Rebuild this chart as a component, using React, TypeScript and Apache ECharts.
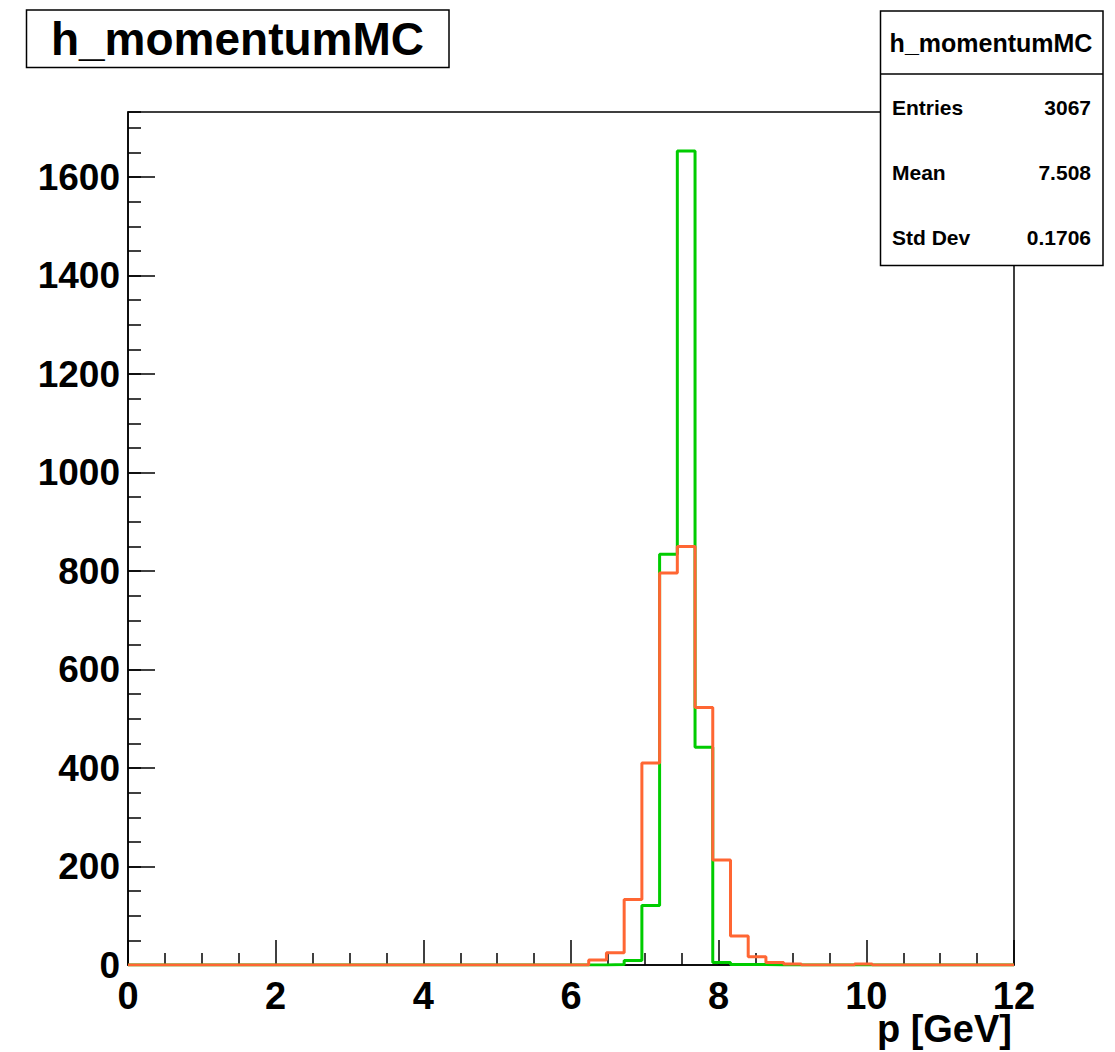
import React, { useEffect, useRef } from "react";
import * as echarts from "echarts";

const histTitle = "h_momentumMC";
const xAxisTitle = "p [GeV]";
const binWidth = 0.24;
const xMin = 0;
const xMax = 12;
const yMax = 1732;

// 50 bins of width 0.24 GeV from 0 to 12
const greenCounts = [
  0, 0, 0, 0, 0, 0, 0, 0, 0, 0,
  0, 0, 0, 0, 0, 0, 0, 0, 0, 0,
  0, 0, 0, 0, 0, 0, 0, 1, 9, 121,
  834, 1653, 442, 5, 1, 1, 0, 0, 0, 0,
  0, 0, 0, 0, 0, 0, 0, 0, 0, 0,
];
const orangeCounts = [
  0, 0, 0, 0, 0, 0, 0, 0, 0, 0,
  0, 0, 0, 0, 0, 0, 0, 0, 0, 0,
  0, 0, 0, 0, 0, 0, 10, 25, 133, 410,
  796, 850, 523, 213, 59, 17, 5, 2, 0, 0,
  0, 2, 0, 0, 0, 0, 0, 0, 0, 0,
];

const statsLabels = ["Entries", "Mean", "Std Dev"];
const statsValues = ["3067", "7.508", "0.1706"];

const FONT = "'Liberation Sans', Arial, Helvetica, sans-serif";

function stepData(counts: number[]) {
  const pts: [number, number][] = counts.map((c, i) => [xMin + i * binWidth, c]);
  pts.push([xMax, counts[counts.length - 1]]);
  return pts;
}

export default function App() {
  const ref = useRef<HTMLDivElement>(null);
  useEffect(() => {
    document.body.style.margin = "0";
    if (!ref.current) return;
    const chart = echarts.init(ref.current, null, { renderer: "svg" });
    const rowYs = [107, 172, 237];
    const statsGraphics: any[] = [];
    statsLabels.forEach((l, i) => {
      statsGraphics.push({
        type: "text",
        x: 892,
        y: rowYs[i],
        style: { text: l, fontFamily: FONT, fontWeight: "bold", fontSize: 21, fill: "#000", textAlign: "left", textVerticalAlign: "middle" },
      });
      statsGraphics.push({
        type: "text",
        x: 1091,
        y: rowYs[i],
        style: { text: statsValues[i], fontFamily: FONT, fontWeight: "bold", fontSize: 21, fill: "#000", textAlign: "right", textVerticalAlign: "middle" },
      });
    });
    chart.setOption({
      animation: false,
      backgroundColor: "#fff",
      grid: {
        left: 128,
        top: 112,
        right: 101,
        bottom: 87,
        show: true,
        borderColor: "#000",
        borderWidth: 1.5,
        backgroundColor: "transparent",
      },
      xAxis: {
        type: "value",
        min: xMin,
        max: xMax,
        interval: 2,
        axisLine: { show: true, lineStyle: { color: "#000", width: 1.5 } },
        axisTick: { show: true, inside: true, length: 25, lineStyle: { color: "#000", width: 1.5 } },
        minorTick: { show: true, splitNumber: 4, length: 12, lineStyle: { color: "#000", width: 1.5 } },
        axisLabel: { fontFamily: FONT, fontWeight: "bold", fontSize: 38, color: "#000", margin: 12, formatter: (v: number) => String(v) },
        splitLine: { show: false },
        minorSplitLine: { show: false },
      },
      yAxis: [
        {
          type: "value",
          position: "left",
          min: 0,
          max: yMax,
          interval: 200,
          axisLine: { show: true, lineStyle: { color: "#000", width: 1.5 } },
          axisTick: { show: true, inside: true, length: 27, lineStyle: { color: "#000", width: 1.5 } },
          axisLabel: { fontFamily: FONT, fontWeight: "bold", fontSize: 37, color: "#000", margin: 8, showMaxLabel: false, formatter: (v: number) => String(v) },
          splitLine: { show: false },
        },
        {
          type: "value",
          position: "left",
          min: 0,
          max: yMax,
          interval: 50,
          axisLine: { show: false },
          axisTick: { show: true, inside: true, length: 13, lineStyle: { color: "#000", width: 1.5 } },
          axisLabel: { show: false },
          splitLine: { show: false },
        },
      ],
      series: [
        {
          type: "line",
          step: "end",
          data: stepData(greenCounts),
          showSymbol: false,
          symbol: "none",
          lineStyle: { color: "#00cc00", width: 3 },
          z: 3,
        },
        {
          type: "line",
          step: "end",
          data: stepData(orangeCounts),
          showSymbol: false,
          symbol: "none",
          lineStyle: { color: "#ff6633", width: 3 },
          z: 4,
        },
      ],
      graphic: [
        {
          type: "rect",
          shape: { x: 26.5, y: 10, width: 422.5, height: 57.5 },
          style: { fill: "#fff", stroke: "#000", lineWidth: 1.5 },
        },
        {
          type: "text",
          x: 237.5,
          y: 39,
          style: { text: histTitle, fontFamily: FONT, fontWeight: "bold", fontSize: 46, fill: "#000", textAlign: "center", textVerticalAlign: "middle" },
        },
        {
          type: "rect",
          shape: { x: 880.5, y: 11, width: 222.5, height: 254.5 },
          style: { fill: "#fff", stroke: "#000", lineWidth: 1.5 },
          z: 10,
        },
        {
          type: "line",
          shape: { x1: 880.5, y1: 74, x2: 1103, y2: 74 },
          style: { stroke: "#000", lineWidth: 1.5 },
          z: 11,
        },
        {
          type: "text",
          x: 991,
          y: 43,
          z: 11,
          style: { text: histTitle, fontFamily: FONT, fontWeight: "bold", fontSize: 25, fill: "#000", textAlign: "center", textVerticalAlign: "middle" },
        },
        ...statsGraphics.map((g) => ({ ...g, z: 11 })),
        {
          type: "text",
          x: 1012,
          y: 1029,
          style: { text: xAxisTitle, fontFamily: FONT, fontWeight: "bold", fontSize: 38, fill: "#000", textAlign: "right", textVerticalAlign: "middle" },
        },
      ],
    });
    return () => chart.dispose();
  }, []);
  return <div ref={ref} style={{ width: 1115, height: 1052 }} />;
}
